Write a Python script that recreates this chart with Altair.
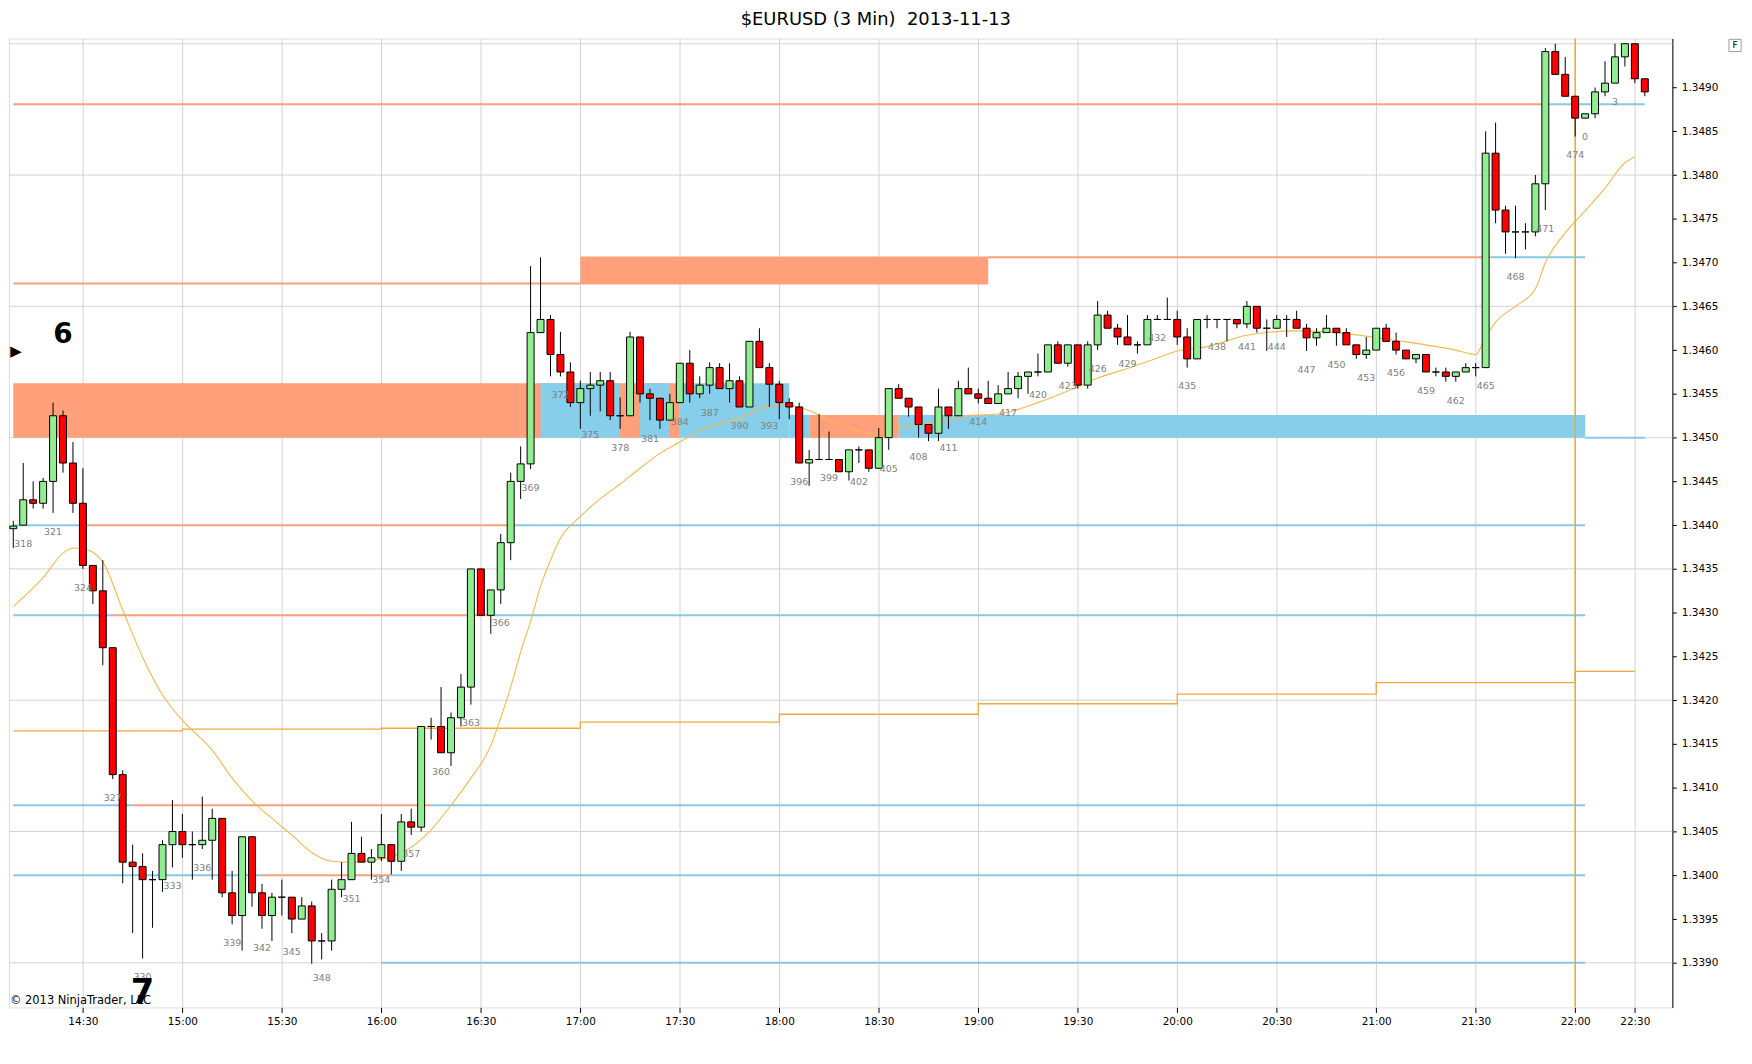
import json
import altair as alt
import pandas as pd

# ---------------- data ----------------
# bar positions 317..474 (session bars) and 475..481 (new session bars 0..6)
positions = list(range(317, 482))
bar_ids = list(range(317, 475)) + [0, 1, 2, 3, 4, 5, 6]

opens = [1.34396, 1.34400, 1.34429, 1.34425, 1.34450, 1.34525, 1.34471, 1.34425, 1.34354, 1.34325,
         1.34260, 1.34115, 1.34015, 1.34010, 1.33995, 1.33995, 1.34035, 1.34050, 1.34035, 1.34035,
         1.34040, 1.34065, 1.33980, 1.33954, 1.34044, 1.33980, 1.33954, 1.33975, 1.33975, 1.33950,
         1.33965, 1.33925, 1.33925, 1.33984, 1.33995, 1.34025, 1.34015, 1.34020, 1.34035, 1.34016,
         1.34061, 1.34055, 1.34170, 1.34170, 1.34140, 1.34180, 1.34215, 1.34350, 1.34297, 1.34326,
         1.34380, 1.34450, 1.34470, 1.34620, 1.34635, 1.34595, 1.34575, 1.34540, 1.34556, 1.34560,
         1.34565, 1.34525, 1.34525, 1.34615, 1.34550, 1.34545, 1.34520, 1.34540, 1.34585, 1.34550,
         1.34560, 1.34580, 1.34556, 1.34565, 1.34535, 1.34610, 1.34580, 1.34561, 1.34540, 1.34535,
         1.34471, 1.34475, 1.34475, 1.34475, 1.34461, 1.34486, 1.34486, 1.34465, 1.34500, 1.34556,
         1.34545, 1.34535, 1.34515, 1.34505, 1.34535, 1.34525, 1.34556, 1.34550, 1.34545, 1.34539,
         1.34550, 1.34556, 1.34570, 1.34575, 1.34575, 1.34606, 1.34585, 1.34606, 1.34560, 1.34606,
         1.34640, 1.34625, 1.34615, 1.34606, 1.34606, 1.34635, 1.34635, 1.34635, 1.34615, 1.34590,
         1.34635, 1.34635, 1.34635, 1.34635, 1.34630, 1.34650, 1.34625, 1.34625, 1.34635, 1.34635,
         1.34625, 1.34614, 1.34620, 1.34625, 1.34620, 1.34606, 1.34595, 1.34600, 1.34625, 1.34610,
         1.34600, 1.34590, 1.34595, 1.34575, 1.34575, 1.34570, 1.34575, 1.34580, 1.34580, 1.34825,
         1.34760, 1.34735, 1.34735, 1.34735, 1.34790, 1.34941, 1.34915, 1.34890, 1.34865, 1.34870,
         1.34895, 1.34905, 1.34935, 1.34950, 1.34910]
highs = [1.34405, 1.34471, 1.34450, 1.34454, 1.34540, 1.34531, 1.34495, 1.34465, 1.34354, 1.34360,
         1.34260, 1.34120, 1.34035, 1.34025, 1.34005, 1.34040, 1.34086, 1.34070, 1.34050, 1.34090,
         1.34076, 1.34065, 1.34005, 1.34044, 1.34044, 1.33990, 1.33980, 1.33995, 1.33975, 1.33975,
         1.33970, 1.33934, 1.33995, 1.34015, 1.34061, 1.34044, 1.34030, 1.34070, 1.34035, 1.34070,
         1.34076, 1.34170, 1.34180, 1.34215, 1.34186, 1.34230, 1.34350, 1.34350, 1.34326, 1.34390,
         1.34460, 1.34490, 1.34696, 1.34706, 1.34640, 1.34621, 1.34586, 1.34565, 1.34575, 1.34575,
         1.34575, 1.34546, 1.34621, 1.34615, 1.34556, 1.34545, 1.34550, 1.34585, 1.34600, 1.34570,
         1.34586, 1.34585, 1.34585, 1.34570, 1.34610, 1.34625, 1.34585, 1.34565, 1.34545, 1.34540,
         1.34486, 1.34527, 1.34507, 1.34475, 1.34486, 1.34490, 1.34486, 1.34511, 1.34556, 1.34561,
         1.34545, 1.34535, 1.34515, 1.34556, 1.34535, 1.34565, 1.34580, 1.34556, 1.34565, 1.34560,
         1.34575, 1.34575, 1.34575, 1.34596, 1.34606, 1.34610, 1.34606, 1.34606, 1.34610, 1.34656,
         1.34645, 1.34630, 1.34640, 1.34610, 1.34640, 1.34640, 1.34660, 1.34645, 1.34625, 1.34635,
         1.34640, 1.34635, 1.34635, 1.34635, 1.34656, 1.34650, 1.34635, 1.34640, 1.34640, 1.34645,
         1.34630, 1.34625, 1.34640, 1.34625, 1.34625, 1.34606, 1.34615, 1.34625, 1.34630, 1.34620,
         1.34600, 1.34595, 1.34595, 1.34580, 1.34580, 1.34575, 1.34585, 1.34585, 1.34850, 1.34860,
         1.34765, 1.34765, 1.34745, 1.34800, 1.34945, 1.34950, 1.34935, 1.34890, 1.34870, 1.34900,
         1.34930, 1.34950, 1.34950, 1.34950, 1.34910]
lows = [1.34374, 1.34400, 1.34419, 1.34419, 1.34414, 1.34460, 1.34414, 1.34350, 1.34310, 1.34240,
        1.34110, 1.33991, 1.33934, 1.33905, 1.33940, 1.33981, 1.34009, 1.34020, 1.33995, 1.34030,
        1.33995, 1.33975, 1.33944, 1.33914, 1.33964, 1.33939, 1.33925, 1.33954, 1.33934, 1.33950,
        1.33899, 1.33904, 1.33914, 1.33975, 1.33995, 1.34015, 1.33995, 1.34016, 1.34001, 1.34005,
        1.34046, 1.34050, 1.34155, 1.34140, 1.34125, 1.34170, 1.34195, 1.34297, 1.34276, 1.34310,
        1.34360, 1.34430, 1.34464, 1.34620, 1.34570, 1.34570, 1.34535, 1.34510, 1.34525, 1.34530,
        1.34520, 1.34510, 1.34525, 1.34540, 1.34520, 1.34510, 1.34520, 1.34540, 1.34540, 1.34545,
        1.34550, 1.34556, 1.34540, 1.34535, 1.34535, 1.34580, 1.34535, 1.34521, 1.34521, 1.34471,
        1.34445, 1.34475, 1.34475, 1.34461, 1.34451, 1.34471, 1.34461, 1.34465, 1.34486, 1.34545,
        1.34524, 1.34500, 1.34496, 1.34496, 1.34510, 1.34525, 1.34550, 1.34539, 1.34539, 1.34539,
        1.34550, 1.34545, 1.34550, 1.34570, 1.34575, 1.34585, 1.34581, 1.34556, 1.34556, 1.34600,
        1.34625, 1.34606, 1.34606, 1.34596, 1.34606, 1.34635, 1.34635, 1.34606, 1.34580, 1.34590,
        1.34625, 1.34625, 1.34610, 1.34625, 1.34625, 1.34620, 1.34599, 1.34625, 1.34615, 1.34625,
        1.34599, 1.34605, 1.34620, 1.34605, 1.34606, 1.34590, 1.34590, 1.34600, 1.34610, 1.34595,
        1.34590, 1.34585, 1.34575, 1.34570, 1.34564, 1.34564, 1.34575, 1.34570, 1.34580, 1.34745,
        1.34710, 1.34705, 1.34715, 1.34730, 1.34760, 1.34915, 1.34890, 1.34844, 1.34865, 1.34865,
        1.34890, 1.34905, 1.34924, 1.34905, 1.34890]
closes = [1.34399, 1.34429, 1.34425, 1.34450, 1.34525, 1.34471, 1.34425, 1.34354, 1.34325, 1.34260,
          1.34115, 1.34015, 1.34010, 1.33995, 1.33995, 1.34035, 1.34050, 1.34035, 1.34035, 1.34040,
          1.34065, 1.33980, 1.33954, 1.34044, 1.33980, 1.33954, 1.33975, 1.33975, 1.33950, 1.33965,
          1.33925, 1.33925, 1.33984, 1.33995, 1.34025, 1.34015, 1.34020, 1.34035, 1.34016, 1.34061,
          1.34055, 1.34170, 1.34170, 1.34140, 1.34180, 1.34215, 1.34350, 1.34297, 1.34326, 1.34380,
          1.34450, 1.34470, 1.34620, 1.34635, 1.34595, 1.34575, 1.34540, 1.34556, 1.34560, 1.34565,
          1.34525, 1.34525, 1.34615, 1.34550, 1.34545, 1.34520, 1.34540, 1.34585, 1.34550, 1.34560,
          1.34580, 1.34556, 1.34565, 1.34535, 1.34610, 1.34580, 1.34561, 1.34540, 1.34535, 1.34471,
          1.34475, 1.34475, 1.34475, 1.34461, 1.34486, 1.34486, 1.34465, 1.34500, 1.34556, 1.34545,
          1.34535, 1.34515, 1.34505, 1.34535, 1.34525, 1.34556, 1.34550, 1.34545, 1.34539, 1.34550,
          1.34556, 1.34570, 1.34575, 1.34575, 1.34606, 1.34585, 1.34606, 1.34560, 1.34606, 1.34640,
          1.34625, 1.34615, 1.34606, 1.34606, 1.34635, 1.34635, 1.34635, 1.34615, 1.34590, 1.34635,
          1.34635, 1.34635, 1.34635, 1.34630, 1.34650, 1.34625, 1.34625, 1.34635, 1.34635, 1.34625,
          1.34614, 1.34620, 1.34625, 1.34620, 1.34606, 1.34595, 1.34600, 1.34625, 1.34610, 1.34600,
          1.34590, 1.34595, 1.34575, 1.34575, 1.34570, 1.34575, 1.34580, 1.34580, 1.34825, 1.34760,
          1.34735, 1.34735, 1.34735, 1.34790, 1.34941, 1.34915, 1.34890, 1.34865, 1.34870, 1.34895,
          1.34905, 1.34935, 1.34950, 1.34910, 1.34895]

# moving average
ma_pos = [317, 320, 322, 323, 324, 325, 326, 328, 330, 332, 334, 337, 339, 341, 343, 345, 347, 349,
          351, 353, 355, 357, 359, 361, 363, 365, 366, 367, 368, 369, 370, 371, 372, 374, 376, 378,
          380, 382, 384, 386, 388, 390, 393, 395, 397, 399, 401, 403, 405, 407, 409, 411, 413, 416,
          420, 424, 426, 429, 432, 434, 437, 441, 446, 450, 453, 456, 459, 462, 464, 465, 466, 468,
          470, 471, 473, 475, 477, 479, 480]
ma_val = [1.34307, 1.34340, 1.34368, 1.34374, 1.34373, 1.34369, 1.34358, 1.34303, 1.34249, 1.34206,
          1.34177, 1.34143, 1.34111, 1.34085, 1.34065, 1.34046, 1.34026, 1.34016, 1.34015, 1.34017,
          1.34021, 1.34032, 1.34052, 1.34080, 1.34111, 1.34148, 1.34180, 1.34215, 1.34255, 1.34290,
          1.34330, 1.34360, 1.34385, 1.34410, 1.34430, 1.34447, 1.34465, 1.34482, 1.34495, 1.34508,
          1.34516, 1.34522, 1.34536, 1.34537, 1.34531, 1.34520, 1.34511, 1.34505, 1.34507, 1.34513,
          1.34516, 1.34520, 1.34525, 1.34527, 1.34540, 1.34558, 1.34568, 1.34579, 1.34591, 1.34599,
          1.34604, 1.34617, 1.34622, 1.34620, 1.34616, 1.34611, 1.34606, 1.34600, 1.34595, 1.34615,
          1.34632, 1.34650, 1.34670, 1.34700, 1.34734, 1.34759, 1.34785, 1.34814, 1.34821]

# stepped line (hourly)
step_pos = [317, 334, 354, 374, 394, 414, 434, 454, 474, 480]
step_val = [1.34165, 1.34167, 1.34168, 1.34175, 1.34184, 1.34196, 1.34207, 1.34220, 1.34233, 1.34233]

# horizontal level segments: price, start bar, end bar, kind
lvl_price = [1.34881, 1.34881, 1.34676, 1.34706, 1.34706, 1.34500,
             1.34400, 1.34400, 1.34400, 1.34297, 1.34297, 1.34297,
             1.34080, 1.34080, 1.34080, 1.34000, 1.34000, 1.34000, 1.33900]
lvl_start = [317, 471.5, 317, 415, 465.5, 475,
             317, 324, 367.5, 317, 327, 365,
             317, 329, 359, 317, 342, 355, 354]
lvl_end = [471.5, 481, 374, 465.5, 475, 481,
           324, 367.5, 475, 327, 365, 475,
           329, 359, 475, 342, 355, 475, 475]
lvl_kind = ["res", "sup", "res", "res", "sup", "sup",
            "sup", "res", "sup", "sup", "res", "sup",
            "sup", "res", "sup", "sup", "res", "sup", "sup"]

# zones: low, high, start, end, kind
zone_lo = [1.34500, 1.34500, 1.34500, 1.34500, 1.34500, 1.34500, 1.34500, 1.34675]
zone_hi = [1.34562, 1.34562, 1.34562, 1.34562, 1.34526, 1.34526, 1.34526, 1.34707]
zone_start = [317, 370, 380, 384, 395, 397, 406, 374]
zone_end = [384, 378, 383, 395, 397, 406, 475, 415]
zone_kind = ["res", "sup", "sup", "sup", "sup", "res", "sup", "res"]

grid_prices = [1.3390, 1.3405, 1.3420, 1.3435, 1.3450, 1.3465, 1.3480, 1.3495]
tick_pos = [324, 334, 344, 354, 364, 374, 384, 394, 404, 414, 424, 434, 444, 454, 464, 474, 480]
tick_lab = ["14:30", "15:00", "15:30", "16:00", "16:30", "17:00", "17:30", "18:00", "18:30",
            "19:00", "19:30", "20:00", "20:30", "21:00", "21:30", "22:00", "22:30"]
price_ticks = [round(1.3390 + 0.0005 * k, 4) for k in range(21)]

# swing markers "6" (mid-glyph price) and "7" (sits on the bottom of the panel)
six_pos, six_price = 322, 1.34617
seven_pos, seven_price = 330, 1.33849

# ---------------- chart ----------------
W, H = 1672, 974
FONT = "DejaVu Sans"
xs = alt.Scale(domain=[316.57, 483.77], nice=False, zero=False, padding=0)
ys = alt.Scale(domain=[1.33849, 1.34956], nice=False, zero=False, padding=0)
RES_FILL, SUP_FILL = "#FFA07A", "#87CEEB"
RES_LINE, SUP_LINE = "#F7A07C", "#87C8E6"

df = pd.DataFrame({"pos": positions, "id": bar_ids, "o": opens, "h": highs, "l": lows, "c": closes})
lab_df = df[(df.id % 3 == 0) & (df.pos < 481)].copy()
lab_df["lab"] = lab_df.id.astype(str)

label_expr = f"{json.dumps(tick_lab)}[indexof({json.dumps(tick_pos)}, datum.value)]"

xaxis = alt.Axis(values=tick_pos, labelExpr=label_expr, grid=True, gridColor="#D3D3D3",
                 domain=False, ticks=True, tickColor="#000", tickSize=5, labelFont=FONT,
                 labelFontSize=10.5, labelColor="#000", labelPadding=4, title=None)
yaxis = alt.Axis(orient="right", values=price_ticks, format=".4f", grid=False, domain=True,
                 domainColor="#000", tickColor="#000", tickSize=4, labelFont=FONT,
                 labelFontSize=10.5, labelColor="#000", labelPadding=5, title=None)


def X(field):
    return alt.X(field, scale=xs, axis=xaxis)


def Y(field):
    return alt.Y(field, scale=ys, axis=yaxis)


hgrid = alt.Chart(pd.DataFrame({"p": grid_prices})).mark_rule(color="#D3D3D3", strokeWidth=1).encode(
    y=Y("p:Q"))

zones = alt.Chart(pd.DataFrame({"lo": zone_lo, "hi": zone_hi, "s": zone_start, "e": zone_end,
                                "k": zone_kind})).mark_rect(opacity=1).encode(
    x=X("s:Q"), x2="e:Q", y=Y("lo:Q"), y2="hi:Q",
    color=alt.condition("datum.k == 'res'", alt.value(RES_FILL), alt.value(SUP_FILL)))

levels = alt.Chart(pd.DataFrame({"p": lvl_price, "s": lvl_start, "e": lvl_end, "k": lvl_kind})).mark_rule(
    strokeWidth=2).encode(
    x=X("s:Q"), x2="e:Q", y=Y("p:Q"),
    color=alt.condition("datum.k == 'res'", alt.value(RES_LINE), alt.value(SUP_LINE)))

step = alt.Chart(pd.DataFrame({"pos": step_pos, "v": step_val})).mark_line(
    interpolate="step-after", color="#F2A93B", strokeWidth=1.3).encode(x=X("pos:Q"), y=Y("v:Q"))

ma = alt.Chart(pd.DataFrame({"pos": ma_pos, "v": ma_val})).mark_line(
    interpolate="monotone", color="#F5B84E", strokeWidth=1.1).encode(x=X("pos:Q"), y=Y("v:Q"))

vline = alt.Chart(pd.DataFrame({"pos": [474]})).mark_rule(color="#F0A830", strokeWidth=1.5).encode(
    x=X("pos:Q"))

wicks = alt.Chart(df).mark_rule(color="#000", strokeWidth=1).encode(
    x=X("pos:Q"), y=Y("l:Q"), y2="h:Q")

bodies = alt.Chart(df).mark_bar(size=7, stroke="#000", strokeWidth=1).encode(
    x=X("pos:Q"), y=Y("o:Q"), y2="c:Q",
    color=alt.condition("datum.c >= datum.o", alt.value("#90EE90"), alt.value("#FF0000")))

barlabels = alt.Chart(lab_df).mark_text(dy=19, fontSize=9.5, color="#808080", font=FONT).encode(
    x=X("pos:Q"), y=Y("l:Q"), text="lab:N")

six = alt.Chart(pd.DataFrame({"pos": [six_pos], "p": [six_price], "t": ["6"]})).mark_text(
    fontSize=28, fontWeight="bold", color="#000", font=FONT, baseline="middle").encode(
    x=X("pos:Q"), y=Y("p:Q"), text="t:N")

seven = alt.Chart(pd.DataFrame({"pos": [seven_pos], "p": [seven_price], "t": ["7"]})).mark_text(
    fontSize=34, fontWeight="bold", color="#000", font=FONT, baseline="bottom", dy=3).encode(
    x=X("pos:Q"), y=Y("p:Q"), text="t:N")

arrow = alt.Chart(pd.DataFrame({"pos": [317.27], "p": [1.34599], "t": ["▶"]})).mark_text(
    fontSize=15, color="#000", font=FONT).encode(x=X("pos:Q"), y=Y("p:Q"), text="t:N")

one = pd.DataFrame({"a": [0]})
copyright_txt = alt.Chart(one).mark_text(text="© 2013 NinjaTrader, LLC", align="left",
                                         baseline="alphabetic", fontSize=11.5, font=FONT,
                                         color="#000").encode(
    x=alt.value(1), y=alt.value(H - 3))

fbox = alt.Chart(one).mark_point(shape="square", size=150, filled=False, color="#777", strokeWidth=1).encode(
    x=alt.value(W + 63), y=alt.value(7))
ftxt = alt.Chart(one).mark_text(text="F", fontSize=9, font=FONT, color="#000").encode(
    x=alt.value(W + 63), y=alt.value(7))

chart = alt.layer(hgrid, zones, levels, step, ma, vline, wicks, bodies, barlabels, six, seven, arrow,
                  copyright_txt, fbox, ftxt).properties(
    width=W, height=H,
    title=alt.TitleParams("$EURUSD (3 Min)\u00a0 2013-11-13", font=FONT, fontSize=18,
                          fontWeight="normal", color="#000", anchor="middle", frame="bounds", offset=8),
    padding={"left": 0, "top": 0, "right": 0, "bottom": 0},
).configure_view(stroke="#000", strokeWidth=1).configure(background="white")

chart.save("out.html", embed_options={"renderer": "svg", "actions": False})
